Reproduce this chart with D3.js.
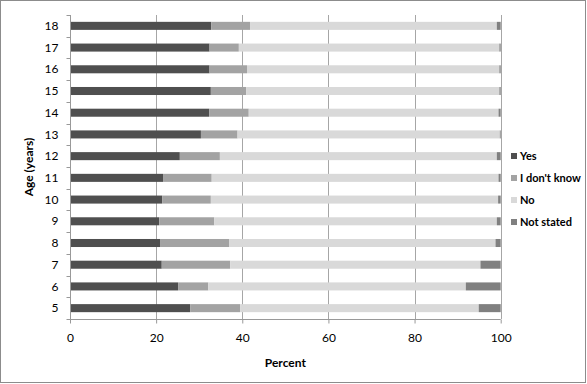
<!DOCTYPE html>
<html><head><meta charset="utf-8">
<script src="https://cdn.jsdelivr.net/npm/d3@7"></script>
<style>
html,body{margin:0;padding:0;background:#fff;}
svg{display:block;}
text{font-family:Lato,"Open Sans",sans-serif;fill:#000;}
</style></head>
<body>
<svg id="chart" width="587" height="384"></svg>
<script>
const ages = ["18","17","16","15","14","13","12","11","10","9","8","7","6","5"];
const seriesNames = ["Yes","I don't know","No","Not stated"];
const yes      = [32.8,32.4,32.4,32.7,32.3,30.4,25.5,21.6,21.4,20.7,20.9,21.3,25.1,27.9];
const dontKnow = [9.0, 6.8, 8.7, 8.2, 9.2, 8.5, 9.3, 11.3,11.3,12.8,16.1,15.9,7.0, 11.6];
const no       = [57.3,60.5,58.6,58.8,58.0,60.9,64.3,66.6,66.7,65.6,61.8,58.1,59.8,55.4];
const notStated= [0.9, 0.3, 0.3, 0.3, 0.5, 0.2, 0.9, 0.5, 0.6, 0.9, 1.2, 4.7, 8.1, 5.1];
const xTicks = [0,20,40,60,80,100];
const colors = ["#4f4f4f","#a3a3a3","#d9d9d9","#808080"];

const rows = ages.map((a,i)=>({age:a, "Yes":yes[i], "I don't know":dontKnow[i], "No":no[i], "Not stated":notStated[i]}));
const stacked = d3.stack().keys(seriesNames)(rows);

const svg = d3.select("#chart");
const mLeft = 70, mRight = 500.7, mTop = 15, mBottom = 319;

svg.append("rect").attr("x",0.5).attr("y",0.5).attr("width",585).attr("height",382)
  .attr("fill","#fff").attr("stroke","#8c8c8c").attr("stroke-width",1);

const x = d3.scaleLinear().domain([0,100]).range([mLeft,mRight]);
const y = d3.scaleBand().domain(ages).range([mTop,mBottom]).paddingInner(0.63).paddingOuter(0.315);
const yBand = d3.scaleBand().domain(ages).range([mTop,mBottom]);

// gridlines
svg.append("g").selectAll("line").data(xTicks.slice(1)).join("line")
  .attr("x1",d=>Math.round(x(d))+0.5).attr("x2",d=>Math.round(x(d))+0.5)
  .attr("y1",mTop).attr("y2",mBottom).attr("stroke","#a6a6a6").attr("stroke-width",1);

// bars
svg.append("g").selectAll("g").data(stacked).join("g")
  .attr("fill",(d,i)=>colors[i])
  .selectAll("rect").data(d=>d).join("rect")
  .attr("x",d=>x(d[0])).attr("width",d=>Math.max(0,x(d[1])-x(d[0])))
  .attr("y",d=>y(d.data.age)).attr("height",y.bandwidth());

// x axis
const xAxis = svg.append("g").attr("transform",`translate(0,${mBottom+0.5})`)
  .call(d3.axisBottom(x).tickValues(xTicks).tickSize(4).tickPadding(10).tickFormat(d3.format("d")));
xAxis.select(".domain").attr("stroke","#999").attr("d",`M${mLeft},0H${mRight}`);
xAxis.selectAll(".tick line").attr("stroke","#999");
xAxis.selectAll("text").attr("font-size",12).attr("font-family","Lato,'Open Sans',sans-serif").attr("fill","#000");

// y axis
const yAxisG = svg.append("g").attr("transform",`translate(${mLeft+0.5},0)`);
yAxisG.append("line").attr("x1",0).attr("x2",0).attr("y1",mTop).attr("y2",mBottom).attr("stroke","#999");
const boundaries = ages.map(a=>yBand(a)).concat([mBottom]);
yAxisG.selectAll("line.tk").data(boundaries).join("line").attr("class","tk")
  .attr("x1",-4).attr("x2",0).attr("y1",d=>Math.round(d)+0.5).attr("y2",d=>Math.round(d)+0.5).attr("stroke","#999");
yAxisG.selectAll("text").data(ages).join("text")
  .attr("x",-12).attr("y",d=>yBand(d)+yBand.bandwidth()/2).attr("dy","0.35em")
  .attr("text-anchor","end").attr("font-size",12).text(d=>d);

// axis titles
svg.append("text").attr("x",(mLeft+mRight)/2).attr("y",363).attr("dy","0.35em")
  .attr("text-anchor","middle").attr("font-size",12).attr("font-weight","bold").text("Percent");
svg.append("text").attr("transform",`translate(29,${(mTop+mBottom)/2}) rotate(-90)`).attr("dy","0.35em")
  .attr("text-anchor","middle").attr("font-size",12).attr("font-weight","bold").text("Age (years)");

// legend
const lg = svg.append("g").selectAll("g").data(seriesNames).join("g")
  .attr("transform",(d,i)=>`translate(511,${156+i*22})`);
lg.append("rect").attr("x",0).attr("y",-3).attr("width",6).attr("height",6).attr("fill",(d,i)=>colors[i]);
lg.append("text").attr("x",9).attr("y",0).attr("dy","0.35em").attr("font-size",11).attr("font-weight","bold").text(d=>d);
</script>
</body></html>
